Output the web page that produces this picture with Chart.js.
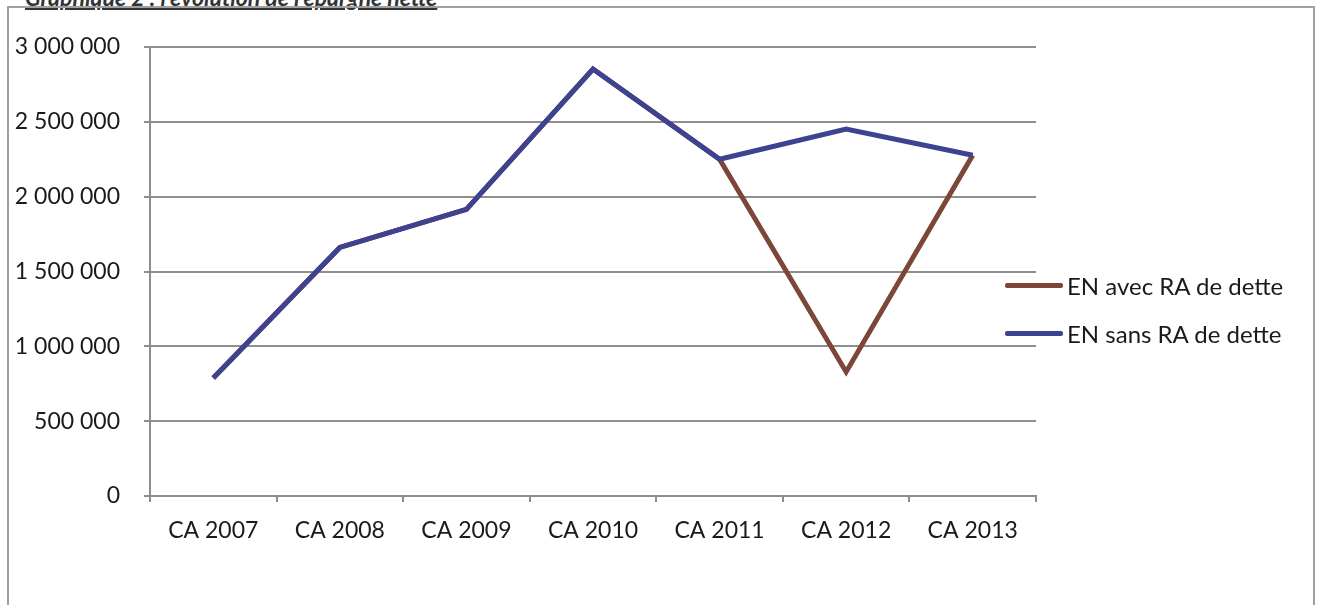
<!DOCTYPE html>
<html lang="fr">
<head>
    <meta charset="UTF-8">
    <title>Graphique 2 : l'évolution de l'épargne nette</title>
    <script src="https://cdn.jsdelivr.net/npm/chart.js"></script>
    <style>
        html, body { margin: 0; padding: 0; background: #fff; }
        body { width: 1317px; height: 605px; position: relative; overflow: hidden; font-family: Lato, "Open Sans", sans-serif; }
        .title {
            position: absolute; left: 25px; top: -17px;
            font-size: 23px; font-style: italic; font-weight: bold; color: #333;
            text-decoration: underline; white-space: nowrap;
        }
        .frame {
            position: absolute; left: 7px; top: 6px; width: 1304px; height: 620px;
            border: 2px solid #a0a0a0; border-bottom: none;
        }
        #wrap { position: absolute; left: 0; top: 0; width: 1317px; height: 605px; }
        .legend { position: absolute; left: 1005px; top: 270px; font-size: 24px; color: #1a1a1a; }
        .legend div { display: flex; align-items: center; height: 30px; margin-bottom: 18px; }
        .legend span.sw { display: inline-block; width: 58px; height: 5px; border-radius: 2px; margin-right: 4px; }
    </style>
</head>
<body>
    <div class="title">Graphique 2 : l'évolution de l'épargne nette</div>
    <div class="frame"></div>
    <div id="wrap"><canvas id="chart"></canvas></div>
    <div class="legend" id="legend"></div>

    <script>
        const categories = ['CA 2007', 'CA 2008', 'CA 2009', 'CA 2010', 'CA 2011', 'CA 2012', 'CA 2013'];
        const avecRA = [788000, 1661000, 1915000, 2853000, 2250000, 829000, 2277000];
        const sansRA = [788000, 1661000, 1915000, 2853000, 2250000, 2451000, 2277000];
        const seriesNames = ['EN avec RA de dette', 'EN sans RA de dette'];
        const colors = ['#7c4736', '#3d4291'];

        const fmt = v => String(v).replace(/\B(?=(\d{3})+(?!\d))/g, ' ');
        const tickFont = { family: 'Lato, "Open Sans", sans-serif', size: 23 };
        const gridColor = '#8e8e8e';

        // blue first so it is drawn on top of the brown line
        const chart = new Chart(document.getElementById('chart'), {
            type: 'line',
            data: {
                labels: categories,
                datasets: [{
                    label: seriesNames[1],
                    data: sansRA,
                    borderColor: colors[1],
                    borderWidth: 5,
                    pointRadius: 0,
                    tension: 0
                }, {
                    label: seriesNames[0],
                    data: avecRA,
                    borderColor: colors[0],
                    borderWidth: 5,
                    pointRadius: 0,
                    tension: 0
                }]
            },
            options: {
                responsive: true,
                maintainAspectRatio: false,
                animation: false,
                layout: { padding: { left: 10, top: 47, right: 281, bottom: 0 } },
                plugins: { legend: { display: false }, tooltip: { enabled: false } },
                scales: {
                    x: {
                        offset: true,
                        grid: { offset: true, drawOnChartArea: false, color: gridColor, lineWidth: 2, tickLength: 6 },
                        border: { color: gridColor, width: 2 },
                        ticks: { font: tickFont, color: '#1a1a1a', padding: 15, maxRotation: 0 },
                        afterFit: s => { s.height = 109; }
                    },
                    y: {
                        min: 0,
                        max: 3000000,
                        grid: { color: gridColor, lineWidth: 2, tickLength: 6 },
                        border: { color: gridColor, width: 2 },
                        ticks: { stepSize: 500000, font: tickFont, color: '#1a1a1a', padding: 24, callback: v => fmt(v) },
                        afterFit: s => { s.width = 140; }
                    }
                }
            }
        });

        const legend = document.getElementById('legend');
        seriesNames.forEach((name, i) => {
            const row = document.createElement('div');
            row.innerHTML = `<span class="sw" style="background:${colors[i]}"></span>${name}`;
            legend.appendChild(row);
        });
    </script>
</body>
</html>
